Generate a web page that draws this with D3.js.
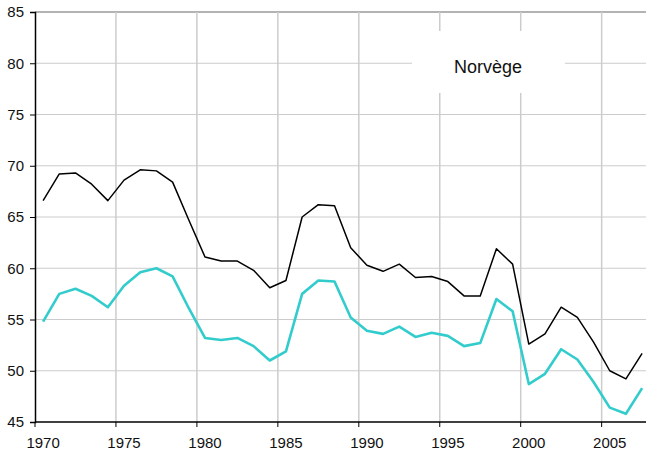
<!DOCTYPE html>
<html>
<head>
<meta charset="utf-8">
<script src="https://cdn.jsdelivr.net/npm/d3@7"></script>
<style>
  body { margin: 0; background: #fff; }
  text { font-family: "Liberation Sans", Arial, sans-serif; fill: #111; }
</style>
</head>
<body>
<div id="chart"></div>
<script>
var years = d3.range(1970, 2008);
var serieNoire = [66.6, 69.2, 69.3, 68.2, 66.6, 68.6, 69.6, 69.5, 68.4, 64.7,
                  61.1, 60.7, 60.7, 59.8, 58.1, 58.8, 65.0, 66.2, 66.1, 62.0,
                  60.3, 59.7, 60.4, 59.1, 59.2, 58.7, 57.3, 57.3, 61.9, 60.4,
                  52.6, 53.6, 56.2, 55.2, 52.8, 50.0, 49.2, 51.7];
var serieTurquoise = [54.8, 57.5, 58.0, 57.3, 56.2, 58.3, 59.6, 60.0, 59.2, 56.1,
                      53.2, 53.0, 53.2, 52.4, 51.0, 51.9, 57.5, 58.8, 58.7, 55.2,
                      53.9, 53.6, 54.3, 53.3, 53.7, 53.4, 52.4, 52.7, 57.0, 55.8,
                      48.7, 49.7, 52.1, 51.1, 48.9, 46.4, 45.8, 48.3];
var yTicks = [45, 50, 55, 60, 65, 70, 75, 80, 85];
var xTicks = [1970, 1975, 1980, 1985, 1990, 1995, 2000, 2005];
var titre = "Norvège";

var width = 646, height = 456;
var plotLeft = 35, plotTop = 12, plotBottom = 422;

var svg = d3.select("#chart").append("svg")
    .attr("width", width)
    .attr("height", height);

var x = d3.scaleBand()
    .domain(years)
    .range([plotLeft, plotLeft + years.length * 16.19]);
var y = d3.scaleLinear()
    .domain([45, 85])
    .range([plotBottom, plotTop]);

// grille horizontale
svg.selectAll("line.hgrid")
    .data(yTicks.slice(1))
    .enter().append("line")
    .attr("x1", plotLeft).attr("x2", width)
    .attr("y1", function (d) { return y(d); })
    .attr("y2", function (d) { return y(d); })
    .attr("stroke", function (d) { return d == 85 ? "#9a9a9a" : "#cccccc"; })
    .attr("stroke-width", function (d) { return d == 85 ? 1.5 : 1; });

// grille verticale
svg.selectAll("line.vgrid")
    .data(xTicks.slice(1))
    .enter().append("line")
    .attr("x1", function (d) { return x(d); })
    .attr("x2", function (d) { return x(d); })
    .attr("y1", plotTop).attr("y2", plotBottom)
    .attr("stroke", "#cccccc")
    .attr("stroke-width", 1.5);

// boite de titre
svg.append("rect")
    .attr("x", 412).attr("y", 31)
    .attr("width", 153).attr("height", 62)
    .attr("fill", "#fff");
svg.append("text")
    .attr("x", 488).attr("y", 73)
    .attr("text-anchor", "middle")
    .attr("font-size", 18)
    .text(titre);

// courbes
var line = function (vals) {
    return d3.line()
        .x(function (d, i) { return x(years[i]) + x.bandwidth() / 2; })
        .y(function (d) { return y(d); })(vals);
};
svg.append("path")
    .attr("d", line(serieTurquoise))
    .attr("fill", "none")
    .attr("stroke", "#33cccc")
    .attr("stroke-width", 2.6)
    .attr("stroke-linejoin", "round");
svg.append("path")
    .attr("d", line(serieNoire))
    .attr("fill", "none")
    .attr("stroke", "#000")
    .attr("stroke-width", 1.5)
    .attr("stroke-linejoin", "round");

// axes
var yAxis = svg.append("g")
    .attr("transform", "translate(" + plotLeft + ",0)")
    .call(d3.axisLeft(y).tickValues(yTicks).tickSize(5).tickPadding(6));
yAxis.select(".domain").attr("stroke", "#000").attr("stroke-width", 1.5);
yAxis.selectAll("text")
    .attr("font-size", 15)
    .attr("font-family", "Liberation Sans, Arial, sans-serif")
    .attr("fill", "#111");

var xg = svg.append("g").attr("transform", "translate(0," + plotBottom + ")");
xg.append("line")
    .attr("x1", plotLeft).attr("x2", width)
    .attr("stroke", "#000").attr("stroke-width", 1.5);
xg.selectAll("line.tick")
    .data(xTicks)
    .enter().append("line")
    .attr("x1", function (d) { return x(d); })
    .attr("x2", function (d) { return x(d); })
    .attr("y1", 0).attr("y2", 5)
    .attr("stroke", "#000");
xg.selectAll("text")
    .data(xTicks)
    .enter().append("text")
    .attr("x", function (d) { return x(d) + x.bandwidth() / 2; })
    .attr("y", 26)
    .attr("text-anchor", "middle")
    .attr("font-size", 15)
    .text(function (d) { return d; });
</script>
</body>
</html>
